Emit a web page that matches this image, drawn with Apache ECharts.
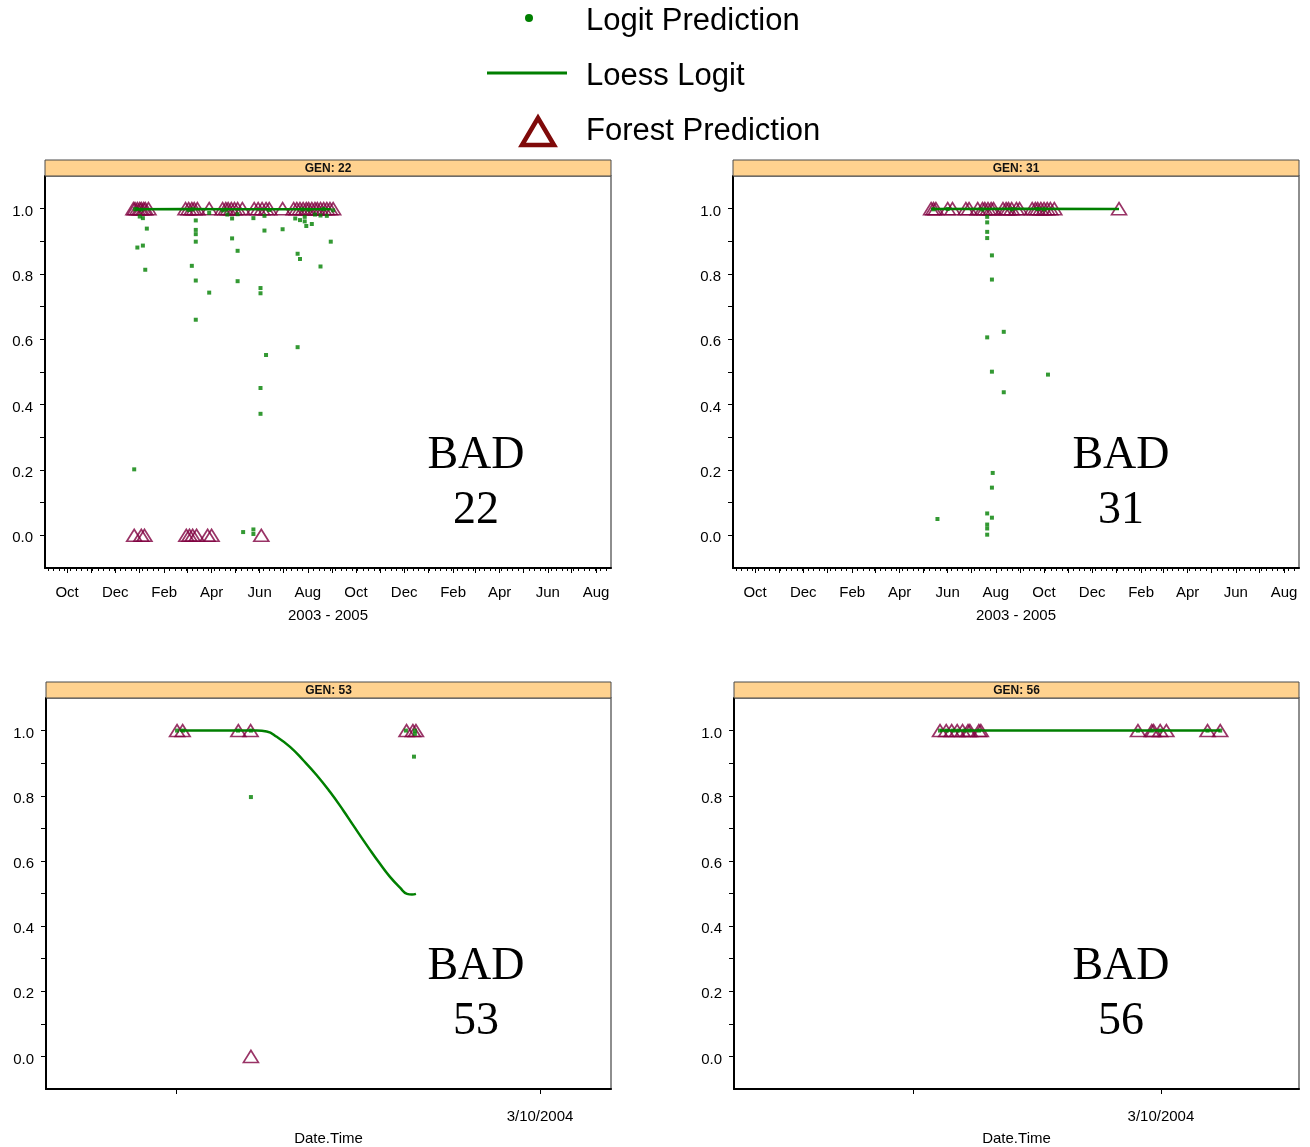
<!DOCTYPE html>
<html>
<head>
<meta charset="utf-8">
<title>Logit vs Forest prediction by GEN</title>
<script src="https://cdn.jsdelivr.net/npm/echarts@6/dist/echarts.min.js"></script>
<style>
  html, body { margin: 0; padding: 0; background: #fff; }
  #chart { width: 1310px; height: 1147px; }
</style>
</head>
<body>
<div id="chart"></div>
<script>
// tick labels
const topLabelDates = ['2003-10-01', '2003-12-01', '2004-02-01', '2004-04-01', '2004-06-01', '2004-08-01',
  '2004-10-01', '2004-12-01', '2005-02-01', '2005-04-01', '2005-06-01', '2005-08-01']
const topLabelNames = ['Oct', 'Dec', 'Feb', 'Apr', 'Jun', 'Aug', 'Oct', 'Dec', 'Feb', 'Apr', 'Jun', 'Aug']
const yTicks = [0, 0.1, 0.2, 0.3, 0.4, 0.5, 0.6, 0.7, 0.8, 0.9, 1.0]
const yTickLabels = [0, 0.2, 0.4, 0.6, 0.8, 1.0]
// bottom panels: hours after 3/9/2004 00:00
const bottomTickHours = [0, 24]
const bottomLabelHours = [24]
const bottomLabelNames = ['3/10/2004']
const panelTitles = ['GEN: 22', 'GEN: 31', 'GEN: 53', 'GEN: 56']
const badLabels = ['22', '31', '53', '56']

// GEN 22
const gen22Logit = [
  ['2003-12-25', 0.202], ['2003-12-26', 0.998], ['2003-12-28', 0.999], ['2003-12-29', 0.881],
  ['2004-01-01', 0.976], ['2004-01-03', 0.997], ['2004-01-05', 0.971], ['2004-01-05', 0.887],
  ['2004-01-08', 0.813], ['2004-01-10', 0.939], ['2004-03-03', 0.996], ['2004-03-07', 0.825],
  ['2004-03-08', 0.998], ['2004-03-12', 0.964], ['2004-03-12', 0.935], ['2004-03-12', 0.922],
  ['2004-03-12', 0.899], ['2004-03-12', 0.780], ['2004-03-12', 0.660], ['2004-03-29', 0.743],
  ['2004-03-29', 0.987], ['2004-04-15', 0.995], ['2004-04-19', 0.997], ['2004-04-21', 0.982],
  ['2004-04-27', 0.970], ['2004-04-27', 0.909], ['2004-05-04', 0.871], ['2004-05-04', 0.778],
  ['2004-05-04', 0.983], ['2004-05-11', 0.010], ['2004-05-24', 0.018], ['2004-05-24', 0.004],
  ['2004-05-24', 0.971], ['2004-06-02', 0.757], ['2004-06-02', 0.741], ['2004-06-02', 0.451],
  ['2004-06-02', 0.372], ['2004-06-07', 0.978], ['2004-06-07', 0.933], ['2004-06-09', 0.552],
  ['2004-06-13', 0.996], ['2004-06-30', 0.937], ['2004-07-16', 0.970], ['2004-07-19', 0.862],
  ['2004-07-19', 0.576], ['2004-07-22', 0.965], ['2004-07-22', 0.846], ['2004-07-25', 0.998],
  ['2004-07-28', 0.975], ['2004-07-28', 0.961], ['2004-07-30', 0.947], ['2004-08-02', 0.997],
  ['2004-08-06', 0.953], ['2004-08-10', 0.982], ['2004-08-17', 0.979], ['2004-08-17', 0.823],
  ['2004-08-21', 0.999], ['2004-08-25', 0.978], ['2004-08-30', 0.899], ['2004-09-02', 0.995]
]
const gen22Loess = [['2003-12-27', 0.998], ['2004-03-01', 0.999], ['2004-06-01', 0.998], ['2004-08-30', 0.998]]
const gen22Forest = [
  ['2003-12-24', 1], ['2003-12-26', 1], ['2003-12-29', 1], ['2004-01-01', 1], ['2004-01-03', 1],
  ['2004-01-06', 1], ['2004-01-08', 1], ['2004-01-12', 1], ['2004-02-28', 1], ['2004-03-03', 1],
  ['2004-03-07', 1], ['2004-03-10', 1], ['2004-03-14', 1], ['2004-03-29', 1], ['2004-04-15', 1],
  ['2004-04-19', 1], ['2004-04-22', 1], ['2004-04-26', 1], ['2004-04-30', 1], ['2004-05-04', 1],
  ['2004-05-10', 1], ['2004-05-25', 1], ['2004-05-30', 1], ['2004-06-04', 1], ['2004-06-09', 1],
  ['2004-06-13', 1], ['2004-06-30', 1], ['2004-07-14', 1], ['2004-07-18', 1], ['2004-07-22', 1],
  ['2004-07-26', 1], ['2004-07-30', 1], ['2004-08-02', 1], ['2004-08-06', 1], ['2004-08-10', 1],
  ['2004-08-13', 1], ['2004-08-17', 1], ['2004-08-21', 1], ['2004-08-25', 1], ['2004-08-29', 1],
  ['2004-09-02', 1],
  ['2003-12-25', 0], ['2004-01-03', 0], ['2004-01-07', 0], ['2004-02-29', 0], ['2004-03-04', 0],
  ['2004-03-08', 0], ['2004-03-13', 0], ['2004-03-27', 0], ['2004-04-01', 0], ['2004-06-03', 0]
]

// GEN 31
const gen31Logit = [
  ['2004-05-14', 0.998], ['2004-05-19', 0.050], ['2004-06-01', 0.999], ['2004-07-15', 0.997],
  ['2004-07-21', 0.975], ['2004-07-21', 0.958], ['2004-07-21', 0.929], ['2004-07-21', 0.910],
  ['2004-07-21', 0.606], ['2004-07-21', 0.067], ['2004-07-21', 0.033], ['2004-07-21', 0.021],
  ['2004-07-21', 0.002], ['2004-07-27', 0.857], ['2004-07-27', 0.783], ['2004-07-27', 0.501],
  ['2004-07-27', 0.146], ['2004-07-27', 0.054], ['2004-07-28', 0.191], ['2004-08-11', 0.623],
  ['2004-08-11', 0.438], ['2004-08-21', 0.998], ['2004-09-23', 0.999], ['2004-10-01', 0.998],
  ['2004-10-06', 0.492]
]
const gen31Loess = [['2004-05-11', 0.999], ['2004-09-01', 1.0], ['2005-01-04', 0.999]]
const gen31Forest = [
  ['2004-05-11', 1], ['2004-05-14', 1], ['2004-05-17', 1], ['2004-06-01', 1], ['2004-06-07', 1],
  ['2004-06-24', 1], ['2004-06-28', 1], ['2004-07-09', 1], ['2004-07-15', 1], ['2004-07-18', 1],
  ['2004-07-22', 1], ['2004-07-26', 1], ['2004-07-29', 1], ['2004-08-10', 1], ['2004-08-14', 1],
  ['2004-08-17', 1], ['2004-08-21', 1], ['2004-08-27', 1], ['2004-08-31', 1], ['2004-09-16', 1],
  ['2004-09-20', 1], ['2004-09-23', 1], ['2004-09-27', 1], ['2004-10-01', 1], ['2004-10-05', 1],
  ['2004-10-09', 1], ['2004-10-14', 1], ['2005-01-04', 1]
]

// GEN 53 (hours)
const gen53Logit = [[0.07, 1.0], [0.46, 1.0], [4.09, 1.0], [4.94, 1.0], [4.94, 0.796], [15.16, 1.0],
  [15.69, 0.920], [15.75, 1.0], [15.75, 0.99]]
const gen53Loess = [[0.26, 1.0], [2.5, 1.0], [5.32, 1.0], [5.98, 0.997], [6.64, 0.981], [7.52, 0.950],
  [8.39, 0.909], [9.28, 0.863], [10.15, 0.812], [11.03, 0.755], [11.69, 0.709], [12.79, 0.634],
  [13.45, 0.591], [14.11, 0.551], [14.77, 0.518], [15.23, 0.499], [15.56, 0.497], [15.82, 0.499]]
const gen53Forest = [[0.07, 1], [0.44, 1], [4.11, 1], [4.92, 1], [15.2, 1], [15.62, 1], [15.82, 1], [4.94, 0]]

// GEN 56 (hours)
const gen56Logit = [[2.63, 1], [3.3, 1], [3.9, 1], [4.4, 1], [5.0, 1], [5.5, 1], [6.4, 1],
  [21.78, 1], [23.12, 1], [23.93, 1], [28.51, 1], [29.74, 1]]
const gen56Loess = [[2.63, 1.0], [15, 1.0], [29.74, 1.0]]
const gen56Forest = [[2.63, 1], [3.23, 1], [3.76, 1], [4.29, 1], [4.81, 1], [5.34, 1], [5.52, 1],
  [6.39, 1], [6.58, 1], [21.78, 1], [23.12, 1], [23.29, 1], [23.93, 1], [24.53, 1], [28.51, 1], [29.74, 1]]

const FONT = "'Liberation Sans', Arial, sans-serif"
const GREEN = '#007f00'
const TRI = '#800040'

const ts = s => { const [y, m, d] = s.split('-').map(Number); return Date.UTC(y, m - 1, d) }
const toTime = arr => arr.map(([d, v]) => [ts(d), v])

const dateMin = ts('2003-09-03')
const dateMax = ts('2005-08-20')
const labelTs = topLabelDates.map(ts)
const monthStarts = []
for (let i = 0; i < 24; i++) {
  const t = Date.UTC(2003, 9 + i, 1)
  if (t <= dateMax) monthStarts.push(t)
}
const weekTicks = []
for (let t = ts('2003-09-07'); t <= dateMax; t += 7 * 86400000) weekTicks.push(t)

const panels = [
  { box: { left: 45, top: 176, width: 566, height: 392 }, kind: 'date', bad: [476, 456], logit: toTime(gen22Logit), loess: toTime(gen22Loess), forest: toTime(gen22Forest) },
  { box: { left: 733, top: 176, width: 566, height: 392 }, kind: 'date', bad: [1121, 456], logit: toTime(gen31Logit), loess: toTime(gen31Loess), forest: toTime(gen31Forest) },
  { box: { left: 46, top: 698, width: 565, height: 391 }, kind: 'hour', bad: [476, 967], range: [-8.57, 28.68], logit: gen53Logit, loess: gen53Loess, forest: gen53Forest },
  { box: { left: 734, top: 698, width: 565, height: 391 }, kind: 'hour', bad: [1121, 967], range: [-17.3, 37.36], logit: gen56Logit, loess: gen56Loess, forest: gen56Forest }
]

const grid = [], xAxis = [], yAxis = [], series = [], graphic = []

panels.forEach((p, i) => {
  grid.push({ ...p.box, show: true, borderColor: '#6a6a6a', borderWidth: 1.5, backgroundColor: '#fff' })

  const axisText = { fontSize: 15, color: '#000', fontFamily: FONT }
  if (p.kind === 'date') {
    xAxis.push({
      type: 'value', gridIndex: i, position: 'bottom', min: dateMin, max: dateMax,
      axisLine: { onZero: false, lineStyle: { color: '#000', width: 2 } },
      axisTick: { customValues: monthStarts, length: 5, lineStyle: { color: '#000', width: 1 } },
      axisLabel: {
        ...axisText, margin: 17, customValues: labelTs,
        formatter: v => {
          const k = labelTs.findIndex(t => Math.abs(t - v) < 86400000)
          return k >= 0 ? topLabelNames[k] : ''
        }
      },
      splitLine: { show: false },
      name: '2003 - 2005', nameLocation: 'middle', nameGap: 40, nameTextStyle: axisText
    })
    xAxis.push({
      type: 'value', gridIndex: i, position: 'bottom', min: dateMin, max: dateMax,
      axisLine: { show: false, onZero: false },
      axisTick: { show: true, customValues: weekTicks, length: 3, lineStyle: { color: '#000', width: 1 } },
      axisLabel: { show: false },
      splitLine: { show: false }
    })
  } else {
    xAxis.push({
      type: 'value', gridIndex: i, position: 'bottom', min: p.range[0], max: p.range[1],
      axisLine: { onZero: false, lineStyle: { color: '#000', width: 2 } },
      axisTick: { customValues: bottomTickHours, length: 5, lineStyle: { color: '#000', width: 1 } },
      axisLabel: {
        ...axisText, margin: 20, customValues: bottomLabelHours,
        formatter: v => bottomLabelNames[bottomLabelHours.indexOf(v)] || ''
      },
      splitLine: { show: false },
      name: 'Date.Time', nameLocation: 'middle', nameGap: 42, nameTextStyle: axisText
    })
    xAxis.push({
      type: 'value', gridIndex: i, position: 'bottom', min: p.range[0], max: p.range[1],
      axisLine: { show: false, onZero: false }, axisTick: { show: false }, axisLabel: { show: false }, splitLine: { show: false }
    })
  }

  yAxis.push({
    type: 'value', gridIndex: i, min: -0.1, max: 1.1,
    axisLine: { show: true, onZero: false, lineStyle: { color: '#000', width: 2 } },
    axisTick: { show: true, customValues: yTicks, length: 5, lineStyle: { color: '#000', width: 1 } },
    axisLabel: {
      ...axisText, margin: 12, customValues: yTickLabels,
      formatter: v => '{t|' + v.toFixed(1) + '}',
      rich: { t: { fontSize: 15, fontFamily: FONT, color: '#000', padding: [6, 0, 0, 0] } }
    },
    splitLine: { show: false }
  })

  const xi = 2 * i
  series.push({
    name: 'Forest Prediction', type: 'scatter', xAxisIndex: xi, yAxisIndex: i,
    data: p.forest, symbol: 'triangle', symbolSize: [15, 12],
    itemStyle: { color: 'rgba(255,255,255,0)', borderColor: TRI, borderWidth: 1.6 }, z: 2
  })
  series.push({
    name: 'Logit Prediction', type: 'scatter', xAxisIndex: xi, yAxisIndex: i,
    data: p.logit, symbol: 'rect', symbolSize: 4, itemStyle: { color: GREEN }, z: 3
  })
  series.push({
    name: 'Loess Logit', type: 'line', xAxisIndex: xi, yAxisIndex: i,
    data: p.loess, smooth: true, showSymbol: false,
    lineStyle: { color: GREEN, width: 2.5 }, z: 4
  })

  // strip header
  const b = p.box
  graphic.push({
    type: 'rect', shape: { x: b.left, y: b.top - 16, width: b.width, height: 16 },
    style: { fill: '#ffd28f', stroke: '#4a4a4a', lineWidth: 1 }, z: 10
  })
  graphic.push({
    type: 'text', x: b.left + b.width / 2, y: b.top - 7,
    style: { text: panelTitles[i], font: "bold 12px 'Liberation Sans', Arial, sans-serif", fill: '#111', align: 'center', verticalAlign: 'middle' }, z: 11
  })
  // BAD label
  const badFont = "46px 'Liberation Serif', 'Times New Roman', serif"
  graphic.push({
    type: 'text', x: p.bad[0], y: p.bad[1],
    style: { text: 'BAD', font: badFont, fill: '#000', align: 'center', verticalAlign: 'middle' }, z: 11
  })
  graphic.push({
    type: 'text', x: p.bad[0], y: p.bad[1] + 55,
    style: { text: badLabels[i], font: badFont, fill: '#000', align: 'center', verticalAlign: 'middle' }, z: 11
  })
})

// legend
const legendFont = "31px 'Liberation Sans', Arial, sans-serif"
graphic.push(
  { type: 'circle', shape: { cx: 529, cy: 18, r: 4 }, style: { fill: GREEN } },
  { type: 'line', shape: { x1: 487, y1: 73, x2: 567, y2: 73 }, style: { stroke: GREEN, lineWidth: 3 } },
  { type: 'polygon', shape: { points: [[538, 118], [522, 145], [554, 145]] }, style: { fill: 'none', stroke: '#7f0a0a', lineWidth: 4.5 } },
  { type: 'text', x: 586, y: 21, style: { text: 'Logit Prediction', font: legendFont, fill: '#000', verticalAlign: 'middle' } },
  { type: 'text', x: 586, y: 76, style: { text: 'Loess Logit', font: legendFont, fill: '#000', verticalAlign: 'middle' } },
  { type: 'text', x: 586, y: 131, style: { text: 'Forest Prediction', font: legendFont, fill: '#000', verticalAlign: 'middle' } }
)

const chart = echarts.init(document.getElementById('chart'), null, { renderer: 'canvas' })
chart.setOption({
  animation: false,
  backgroundColor: '#fff',
  grid, xAxis, yAxis, series, graphic
})
</script>
</body>
</html>
